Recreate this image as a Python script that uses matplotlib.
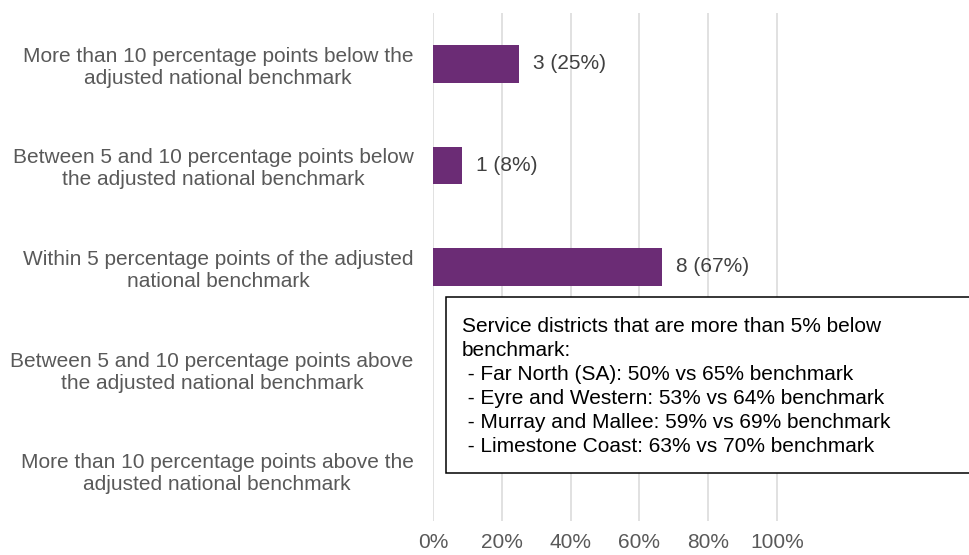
import matplotlib.pyplot as plt
import matplotlib.patches as patches
import numpy as np

plt.rcParams["font.family"] = ["Liberation Sans", "DejaVu Sans"]

categories = [
    "More than 10 percentage points below the\nadjusted national benchmark",
    "Between 5 and 10 percentage points below\nthe adjusted national benchmark",
    "Within 5 percentage points of the adjusted\nnational benchmark",
    "Between 5 and 10 percentage points above\nthe adjusted national benchmark",
    "More than 10 percentage points above the\nadjusted national benchmark",
]
counts = [3, 1, 8, 0, 0]
x_ticks = [0, 0.2, 0.4, 0.6, 0.8, 1.0]
x_tick_labels = ["0%", "20%", "40%", "60%", "80%", "100%"]
note_lines = [
    "Service districts that are more than 5% below",
    "benchmark:",
    " - Far North (SA): 50% vs 65% benchmark",
    " - Eyre and Western: 53% vs 64% benchmark",
    " - Murray and Mallee: 59% vs 69% benchmark",
    " - Limestone Coast: 63% vs 70% benchmark",
]

total = sum(counts)
shares = [c / total for c in counts]

W, H = 969, 555
fig = plt.figure(figsize=(W / 100, H / 100), dpi=100)
ax = fig.add_axes([433 / W, 1 - 521 / H, (W - 433) / W, (521 - 13) / H])

y = np.arange(len(categories))
ax.barh(y, shares, height=0.37, color="#6B2C75", zorder=3)
for yi, c, s in zip(y, counts, shares):
    if c > 0:
        ax.annotate(f"{c} ({s:.0%})", (s, yi), xytext=(10, 0), textcoords="offset points",
                    va="center", ha="left", fontsize=15, color="#404040")

ax.set_xlim(0, (W - 433) / 344)
ax.set_ylim(len(categories) - 0.5, -0.5)
ax.set_xticks(x_ticks)
ax.set_xticklabels(x_tick_labels, fontsize=15, color="#595959")
ax.set_yticks(y)
ax.set_yticklabels(categories, fontsize=15, color="#595959", multialignment="center")
ax.tick_params(axis="y", length=0, pad=14)
ax.tick_params(axis="x", length=0, pad=9)
ax.grid(axis="x", color="#D9D9D9", linewidth=1.1, zorder=0)
for sp in ax.spines.values():
    sp.set_visible(False)

# note box, open on the right: it runs off the edge of the figure
x0, x1 = 446 / W, 1100 / W
y_top, y_bot = 1 - 297 / H, 1 - 473 / H
box = patches.Polygon([(x1, y_top), (x0, y_top), (x0, y_bot), (x1, y_bot)], closed=False,
                      transform=fig.transFigure, facecolor="white", edgecolor="black",
                      linewidth=1.1, clip_on=False, zorder=5)
fig.patches.append(box)
for i, line in enumerate(note_lines):
    fig.text(462 / W, 1 - (327 + 24 * i) / H, line, fontsize=15, color="black",
             va="center", ha="left", zorder=6)

plt.savefig("out.png", dpi=100)
